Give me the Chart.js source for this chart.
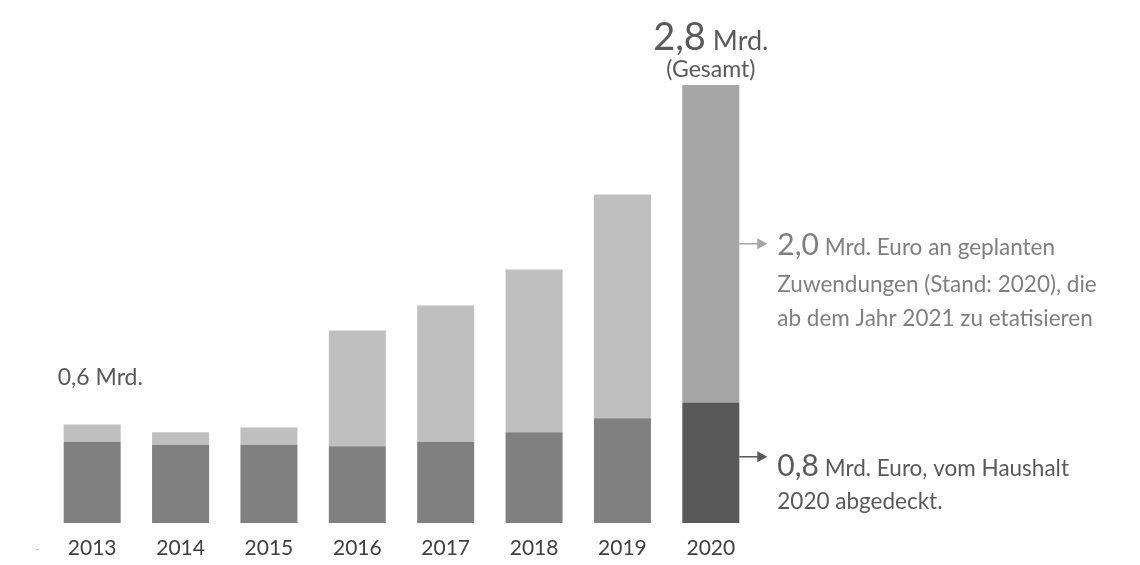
<!DOCTYPE html>
<html>
<head>
<meta charset="utf-8">
<script src="https://cdn.jsdelivr.net/npm/chart.js@4.4.1/dist/chart.umd.min.js"></script>
<style>
  html, body { margin: 0; padding: 0; background: #fff; }
  #wrap { width: 1140px; height: 565px; }
</style>
</head>
<body>
<div id="wrap"><canvas id="chart"></canvas></div>
<script>
// Data (Mrd. Euro)
const years = ['2013', '2014', '2015', '2016', '2017', '2018', '2019', '2020'];
const funded = [0.52, 0.50, 0.50, 0.49, 0.52, 0.58, 0.67, 0.77];
const planned = [0.11, 0.08, 0.11, 0.74, 0.87, 1.04, 1.43, 2.03];

const FONT = 'Lato, "Open Sans", sans-serif';

// colours: last year is highlighted darker
const fundedColors = years.map((y, i) => i === years.length - 1 ? '#595959' : '#808080');
const plannedColors = years.map((y, i) => i === years.length - 1 ? '#a6a6a6' : '#bfbfbf');

function drawArrow(ctx, x1, x2, y, color) {
    ctx.strokeStyle = color;
    ctx.fillStyle = color;
    ctx.lineWidth = 1.5;
    ctx.beginPath();
    ctx.moveTo(x1, y);
    ctx.lineTo(x2 - 8, y);
    ctx.stroke();
    ctx.beginPath();
    ctx.moveTo(x2, y);
    ctx.lineTo(x2 - 10, y - 5.5);
    ctx.lineTo(x2 - 10, y + 5.5);
    ctx.closePath();
    ctx.fill();
}

// draws a line made of pieces with different font sizes
function drawRich(ctx, x, y, parts, align) {
    let total = 0;
    parts.forEach(p => {
        ctx.font = p.size + 'px ' + FONT;
        p.w = ctx.measureText(p.text).width;
        total += p.w;
    });
    let cx = align === 'center' ? x - total / 2 : x;
    ctx.textAlign = 'left';
    ctx.textBaseline = 'alphabetic';
    parts.forEach(p => {
        ctx.font = p.size + 'px ' + FONT;
        ctx.fillStyle = p.color;
        ctx.fillText(p.text, cx, y);
        cx += p.w;
    });
}

const annotations = {
    id: 'annotations',
    afterDatasetsDraw(chart) {
        const ctx = chart.ctx;
        const last = years.length - 1;
        const low = chart.getDatasetMeta(0).data[last];
        const high = chart.getDatasetMeta(1).data[last];
        const right = low.x + low.width / 2;
        const yScale = chart.scales.y;
        const first = chart.getDatasetMeta(1).data[0];

        ctx.save();
        // total on top of last bar
        drawRich(ctx, high.x, 50, [
            { text: '2,8', size: 38, color: '#595959' },
            { text: ' Mrd.', size: 27, color: '#595959' }
        ], 'center');
        drawRich(ctx, high.x, 77, [{ text: '(Gesamt)', size: 23, color: '#595959' }], 'center');

        // planned part
        const yPlanMid = (yScale.getPixelForValue(funded[last]) + yScale.getPixelForValue(funded[last] + planned[last])) / 2;
        drawArrow(ctx, right, right + 28, yPlanMid, '#a6a6a6');
        const tx = right + 38;
        drawRich(ctx, tx, yPlanMid + 11, [
            { text: '2,0', size: 30, color: '#7f7f7f' },
            { text: ' Mrd. Euro an geplanten', size: 22.5, color: '#7f7f7f' }
        ]);
        drawRich(ctx, tx, yPlanMid + 48, [{ text: 'Zuwendungen (Stand: 2020), die', size: 22.5, color: '#7f7f7f' }]);
        drawRich(ctx, tx, yPlanMid + 82, [{ text: 'ab dem Jahr 2021 zu etatisieren', size: 22.5, color: '#7f7f7f' }]);

        // funded part
        const yFundMid = (yScale.getPixelForValue(0) + yScale.getPixelForValue(funded[last])) / 2;
        drawArrow(ctx, right, right + 28, yFundMid - 6, '#595959');
        drawRich(ctx, tx, yFundMid + 13, [
            { text: '0,8', size: 30, color: '#595959' },
            { text: ' Mrd. Euro, vom Haushalt', size: 22.5, color: '#595959' }
        ]);
        drawRich(ctx, tx, yFundMid + 46, [{ text: '2020 abgedeckt.', size: 22.5, color: '#595959' }]);

        // first year label
        drawRich(ctx, first.x - first.width / 2 - 6, 385, [{ text: '0,6 Mrd.', size: 23, color: '#595959' }]);
        // stray dot at the lower left of the original
        drawRich(ctx, 36, 550, [{ text: '.', size: 10, color: '#808080' }]);
        ctx.restore();
    }
};

new Chart(document.getElementById('chart').getContext('2d'), {
    type: 'bar',
    data: {
        labels: years,
        datasets: [
            {
                label: 'Haushalt',
                data: funded,
                backgroundColor: fundedColors,
                barPercentage: 0.645,
                categoryPercentage: 1
            },
            {
                label: 'Geplant',
                data: planned,
                backgroundColor: plannedColors,
                barPercentage: 0.645,
                categoryPercentage: 1
            }
        ]
    },
    options: {
        responsive: true,
        maintainAspectRatio: false,
        animation: false,
        layout: {
            padding: { left: 48, right: 385, top: 85, bottom: 0 }
        },
        scales: {
            x: {
                stacked: true,
                grid: { display: false, drawTicks: false },
                border: { display: false },
                afterFit(scale) { scale.height = 42; },
                ticks: {
                    color: '#404040',
                    padding: 13,
                    font: { family: FONT, size: 21 }
                }
            },
            y: {
                stacked: true,
                display: false,
                min: 0,
                max: 2.8
            }
        },
        plugins: {
            legend: { display: false },
            tooltip: { enabled: false }
        }
    },
    plugins: [annotations]
});
</script>
</body>
</html>
